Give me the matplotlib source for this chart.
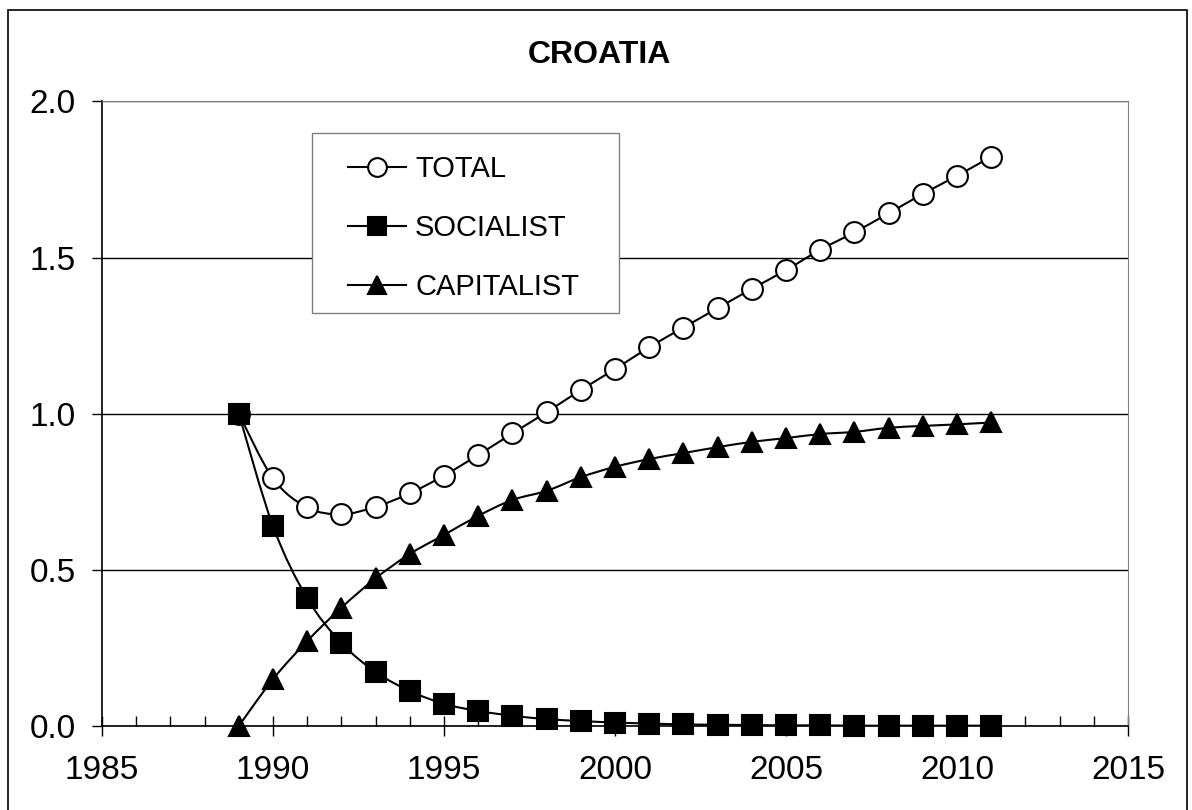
import matplotlib
matplotlib.use("Agg")
import matplotlib.pyplot as plt
from matplotlib.path import Path
from matplotlib.patches import PathPatch, Rectangle
from matplotlib.lines import Line2D
import numpy as np

plt.rcParams["font.family"] = ["Liberation Sans", "DejaVu Sans"]

years = list(range(1989, 2012))
total = [1.0, 0.793, 0.70, 0.678, 0.702, 0.745, 0.802, 0.868, 0.937, 1.005,
         1.076, 1.143, 1.213, 1.276, 1.338, 1.40, 1.46, 1.525, 1.581, 1.642,
         1.704, 1.762, 1.823]
socialist = [1.0, 0.64, 0.409, 0.266, 0.173, 0.112, 0.071, 0.048, 0.033, 0.022,
             0.016, 0.011, 0.008, 0.005, 0.004, 0.003, 0.002, 0.002, 0.001, 0.001,
             0.001, 0.001, 0.001]
capitalist = [0.0, 0.15, 0.272, 0.379, 0.473, 0.551, 0.612, 0.673, 0.724, 0.753,
              0.797, 0.83, 0.855, 0.874, 0.893, 0.91, 0.922, 0.935, 0.942, 0.955,
              0.961, 0.966, 0.972]
series_names = ["TOTAL", "SOCIALIST", "CAPITALIST"]


def smooth_path(x, y):
    # Excel-style smoothed line: cubic bezier segments through the points
    pts = np.column_stack([x, y]).astype(float)
    verts = [pts[0]]
    codes = [Path.MOVETO]
    n = len(pts)
    for i in range(n - 1):
        p0 = pts[i - 1] if i > 0 else pts[i]
        p1 = pts[i]
        p2 = pts[i + 1]
        p3 = pts[i + 2] if i + 2 < n else pts[i + 1]
        c1 = p1 + (p2 - p0) / 6.0
        c2 = p2 - (p3 - p1) / 6.0
        verts += [c1, c2, p2]
        codes += [Path.CURVE4] * 3
    return Path(verts, codes)


fig = plt.figure(figsize=(11.92, 8.10), dpi=100)
ax = fig.add_axes([102 / 1192, 84 / 810, 1026 / 1192, 624.5 / 810])

styles = [
    dict(marker="o", markerfacecolor="white", markersize=15),
    dict(marker="s", markerfacecolor="black", markersize=14),
    dict(marker="^", markerfacecolor="black", markersize=15),
]

handles = []
for vals, name, st in zip([total, socialist, capitalist], series_names, styles):
    ax.add_patch(PathPatch(smooth_path(years, vals), facecolor="none",
                           edgecolor="black", lw=1.5, zorder=3))
    ax.plot(years, vals, linestyle="none", color="black",
            markeredgewidth=1.5, zorder=4, clip_on=False, **st)
    handles.append(Line2D([], [], color="black", lw=1.5, markeredgewidth=1.5,
                          label=name, **{**st, "markersize": st["markersize"] * 0.9}))

ax.set_xlim(1985, 2015)
ax.set_ylim(0, 2.0)
ax.set_xticks(range(1985, 2016, 5))
ax.set_xticks(range(1985, 2016), minor=True)
ax.set_yticks([0.0, 0.5, 1.0, 1.5, 2.0])
ax.set_yticklabels(["0.0", "0.5", "1.0", "1.5", "2.0"])
ax.tick_params(axis="x", which="major", direction="inout", length=14, width=1,
               pad=14, labelsize=24)
ax.tick_params(axis="x", which="minor", direction="in", length=7, width=1)
ax.tick_params(axis="y", which="major", direction="out", length=7, width=1,
               pad=12, labelsize=24)

ax.grid(axis="y", color="black", lw=1)
ax.set_axisbelow(True)
for side in ["top", "right"]:
    ax.spines[side].set_color("#808080")
for side in ["left", "bottom"]:
    ax.spines[side].set_color("black")
    ax.spines[side].set_linewidth(1.2)

fig.text(0.503, 1 - 55 / 810, "CROATIA", ha="center", va="center",
         fontsize=23, fontweight="bold")

# legend box drawn separately so its padding can match the original
ax.add_artist(Rectangle((312 / 1192, 1 - 313 / 810), 307 / 1192, 180 / 810,
                        transform=fig.transFigure, facecolor="white",
                        edgecolor="#808080", lw=1, zorder=5, clip_on=False))
leg = ax.legend(handles=handles, loc="upper left",
                bbox_to_anchor=(348 / 1192, 1 - 155 / 810),
                bbox_transform=fig.transFigure, borderaxespad=0, borderpad=0,
                fontsize=21, handlelength=2.0, handletextpad=0.3,
                labelspacing=1.06, frameon=False)
leg.set_zorder(6)

fig.patches.append(Rectangle((8 / 1192, -0.01), 1179 / 1192, 1.01 - 10 / 810,
                             transform=fig.transFigure, fill=False,
                             edgecolor="black", lw=1.2))

fig.savefig("out.png", dpi=100)
plt.close(fig)
